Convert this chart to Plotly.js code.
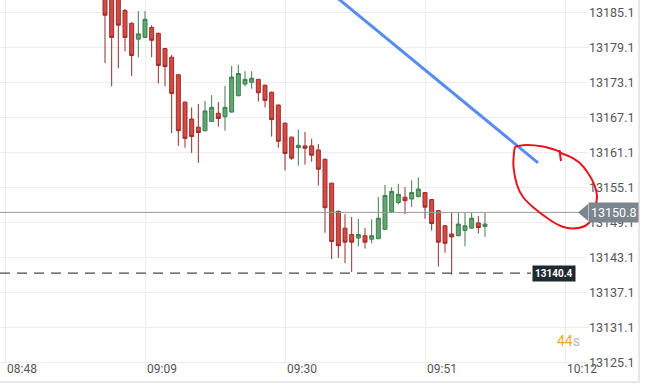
<!DOCTYPE html>
<html>
<head>
<meta charset="utf-8">
<script src="https://cdn.plot.ly/plotly-3.0.1.min.js"></script>
<style>html,body{margin:0;padding:0;background:#fff;}#chart{width:652px;height:387px;}</style>
</head>
<body>
<div id="chart"></div>
<script>
// ---- data ----
const day = '2024-01-01 ';
const times = ['09:03','09:04','09:05','09:06','09:07','09:08','09:09','09:10','09:11','09:12',
  '09:13','09:14','09:15','09:16','09:17','09:18','09:19','09:20','09:21','09:22',
  '09:23','09:24','09:25','09:26','09:27','09:28','09:29','09:30','09:31','09:32',
  '09:33','09:34','09:35','09:36','09:37','09:38','09:39','09:40','09:41','09:42',
  '09:43','09:44','09:45','09:46','09:47','09:48','09:49','09:50','09:51','09:52',
  '09:53','09:54','09:55','09:56','09:57','09:58','09:59','10:00'];
const opens = [13189.8,13188.6,13188.1,13185.4,13183.2,13180.5,13180.8,13182.5,13181.5,13178.9,
  13177.4,13174.4,13169.7,13166.8,13165.4,13164.8,13166.4,13167.8,13167.2,13168.0,
  13170.8,13172.8,13173.1,13173.6,13172.6,13171.4,13169.2,13166.1,13163.7,13161.9,
  13162.2,13162.2,13161.5,13159.9,13155.8,13151.0,13148.1,13147.0,13146.4,13146.8,
  13146.2,13146.3,13147.9,13150.9,13152.5,13153.4,13153.1,13153.5,13154.2,13153.0,
  13151.1,13148.5,13147.1,13146.8,13147.7,13148.1,13149.0,13148.4];
const highs = [13190.6,13189.5,13189.0,13185.7,13183.4,13185.3,13185.3,13182.9,13181.6,13179.0,
  13177.8,13174.5,13169.8,13168.8,13169.4,13169.9,13170.9,13169.7,13172.5,13175.9,
  13176.1,13175.0,13175.0,13173.7,13172.7,13171.5,13169.3,13166.2,13163.8,13165.0,
  13164.6,13163.4,13162.5,13160.0,13155.9,13151.1,13150.5,13150.0,13149.7,13148.1,
  13149.6,13153.4,13155.5,13155.1,13155.7,13155.1,13156.3,13156.8,13154.3,13153.1,
  13151.2,13148.6,13150.8,13150.8,13150.8,13150.8,13150.2,13150.8];
const lows = [13176.4,13172.4,13175.5,13178.4,13174.2,13177.4,13180.7,13177.4,13172.9,13172.4,
  13164.4,13162.2,13161.9,13161.0,13159.3,13164.7,13166.3,13165.5,13164.8,13167.9,
  13170.7,13172.4,13172.0,13169.8,13168.8,13163.8,13161.9,13158.0,13159.8,13158.8,
  13159.0,13159.5,13155.4,13147.3,13142.8,13143.0,13142.1,13140.6,13145.0,13144.6,
  13145.5,13146.2,13147.8,13150.8,13152.2,13150.5,13151.7,13153.4,13149.7,13147.7,
  13141.5,13143.9,13140.1,13146.7,13145.0,13148.0,13147.2,13146.6];
const closes = [13184.6,13180.8,13182.9,13180.8,13177.7,13181.4,13183.9,13180.3,13176.0,13175.8,
  13171.2,13164.8,13163.5,13163.8,13164.5,13168.2,13168.8,13166.9,13168.8,13174.0,
  13174.6,13173.6,13173.8,13171.3,13170.0,13166.7,13163.0,13160.9,13160.1,13162.3,
  13161.8,13160.6,13158.2,13151.6,13145.8,13145.1,13145.7,13145.7,13147.0,13145.7,
  13146.8,13149.8,13153.7,13154.4,13153.9,13152.8,13154.2,13154.8,13151.7,13148.9,
  13145.7,13145.5,13146.6,13148.8,13148.5,13149.8,13148.2,13148.8];

const xTickTimes = ['08:48','09:09','09:30','09:51','10:12'];
const yTickVals = [13125.1,13131.1,13137.1,13143.1,13149.1,13155.1,13161.1,13167.1,13173.1,13179.1,13185.1];
const currentPrice = 13150.8;
const lowLevel = 13140.4;
const timerDigits = '44';
// drawn trend line (time, price)
const trendTimes = ['09:36:45','10:07:57'];
const trendPrices = [13188.6, 13159.3];
// hand-drawn loop (paper fractions)
const loopX = [0.8759,0.8963,0.9235,0.9422,0.9507,0.9558,0.9694,0.9864,1.0,1.0102,1.0153,1.0119,1.0068,0.9949,0.9745,0.9558,0.9354,0.9082,0.8895,0.8793,0.8733,0.8741,0.8759];
const loopY = [0.5981,0.6027,0.5986,0.5904,0.5849,0.5795,0.5707,0.5526,0.5260,0.4959,0.4630,0.4301,0.4000,0.3808,0.3740,0.3795,0.3973,0.4301,0.4603,0.4932,0.5425,0.5808,0.5981];
const hookX = [0.9515, 0.9541];
const hookY = [0.5890, 0.5589];

// ---- helpers ----
function smoothPath(xs, ys) {
  let d = 'M' + xs[0] + ',' + ys[0];
  for (let i = 0; i < xs.length - 1; i++) {
    const i0 = Math.max(0, i - 1), i3 = Math.min(xs.length - 1, i + 2);
    const c1x = xs[i] + (xs[i + 1] - xs[i0]) / 6, c1y = ys[i] + (ys[i + 1] - ys[i0]) / 6;
    const c2x = xs[i + 1] - (xs[i3] - xs[i]) / 6, c2y = ys[i + 1] - (ys[i3] - ys[i]) / 6;
    d += ' C' + c1x + ',' + c1y + ' ' + c2x + ',' + c2y + ' ' + xs[i + 1] + ',' + ys[i + 1];
  }
  return d;
}

const font = 'Roboto, "Open Sans", sans-serif';

const trace = {
  type: 'candlestick',
  x: times.map(t => day + t),
  open: opens, high: highs, low: lows, close: closes,
  increasing: {line: {color: '#3f7d4d', width: 1}, fillcolor: '#62a66f'},
  decreasing: {line: {color: '#9a2c2a', width: 1}, fillcolor: '#d64a43'},
  whiskerwidth: 0,
  hoverinfo: 'skip'
};

const trend = {
  type: 'scatter', mode: 'lines',
  x: trendTimes.map(t => day + t), y: trendPrices,
  line: {color: '#5a8cf0', width: 3},
  hoverinfo: 'skip'
};

const layout = {
  width: 652, height: 387,
  margin: {l: 0, r: 64, t: 0, b: 22},
  paper_bgcolor: '#ffffff', plot_bgcolor: '#ffffff',
  showlegend: false,
  boxgap: 0.15,
  dragmode: false,
  xaxis: {
    type: 'date',
    range: [day + '08:47:15', day + '10:15:27'],
    tickvals: xTickTimes.map(t => day + t),
    ticktext: xTickTimes,
    showgrid: true, gridcolor: '#ededed', gridwidth: 1,
    zeroline: false, showline: false, ticks: '',
    tickfont: {family: font, size: 12, color: '#555'},
    ticklabelshift: 17,
    ticklabelstandoff: -5,
    rangeslider: {visible: false},
    fixedrange: true
  },
  yaxis: {
    side: 'right',
    range: [13124.64, 13187.21],
    tickvals: yTickVals,
    ticktext: yTickVals.map(v => v.toFixed(1)),
    showgrid: true, gridcolor: '#ededed', gridwidth: 1,
    zeroline: false, showline: false, ticks: '',
    tickfont: {family: font, size: 12.5, color: '#555'},
    fixedrange: true
  },
  shapes: [
    {type: 'line', xref: 'paper', yref: 'y', x0: 0, x1: 0.985, y0: currentPrice, y1: currentPrice,
     line: {color: '#9a9a9a', width: 1}},
    {type: 'line', xref: 'paper', yref: 'y', x0: 0, x1: 0.903, y0: lowLevel, y1: lowLevel,
     line: {color: '#4a4a4a', width: 1.3, dash: '10px,7px'}},
    {type: 'path', xref: 'paper', yref: 'y',
     path: 'M0.983,' + currentPrice + ' L1.0,' + (currentPrice + 1.45) + ' L1.0,' + (currentPrice - 1.45) + ' Z',
     fillcolor: '#7b868e', line: {width: 0}},
    {type: 'path', xref: 'paper', yref: 'paper', path: smoothPath(loopX, loopY),
     line: {color: '#e8141c', width: 2}},
    {type: 'path', xref: 'paper', yref: 'paper', path: smoothPath(hookX, hookY),
     line: {color: '#e8141c', width: 2}},
    {type: 'rect', xref: 'paper', yref: 'paper', x0: -0.02, x1: 1.0868, y0: -0.0466, y1: 1.05,
     line: {color: '#cfcfcf', width: 1}, fillcolor: 'rgba(0,0,0,0)'}
  ],
  annotations: [
    {xref: 'paper', yref: 'y', x: 1.0, y: currentPrice, xanchor: 'left', yanchor: 'middle',
     text: currentPrice.toFixed(1), showarrow: false, bgcolor: '#7b868e', borderpad: 2,
     font: {family: font, size: 12.5, color: '#ffffff'}},
    {xref: 'paper', yref: 'y', x: 0.905, y: lowLevel, xanchor: 'left', yanchor: 'middle',
     text: '<b>' + lowLevel.toFixed(1) + '</b>', showarrow: false, bgcolor: '#1f2a30', borderpad: 2,
     font: {family: font, size: 10, color: '#ffffff'}},
    {xref: 'paper', yref: 'paper', x: 0.99, y: 0.066, xanchor: 'right', yanchor: 'middle',
     text: '<span style="color:#f0a73c">' + timerDigits + '</span><span style="color:#b5b5b5">s</span>',
     showarrow: false, font: {family: font, size: 14}}
  ]
};

Plotly.newPlot('chart', [trace, trend], layout, {displayModeBar: false, staticPlot: true});
</script>
</body>
</html>
